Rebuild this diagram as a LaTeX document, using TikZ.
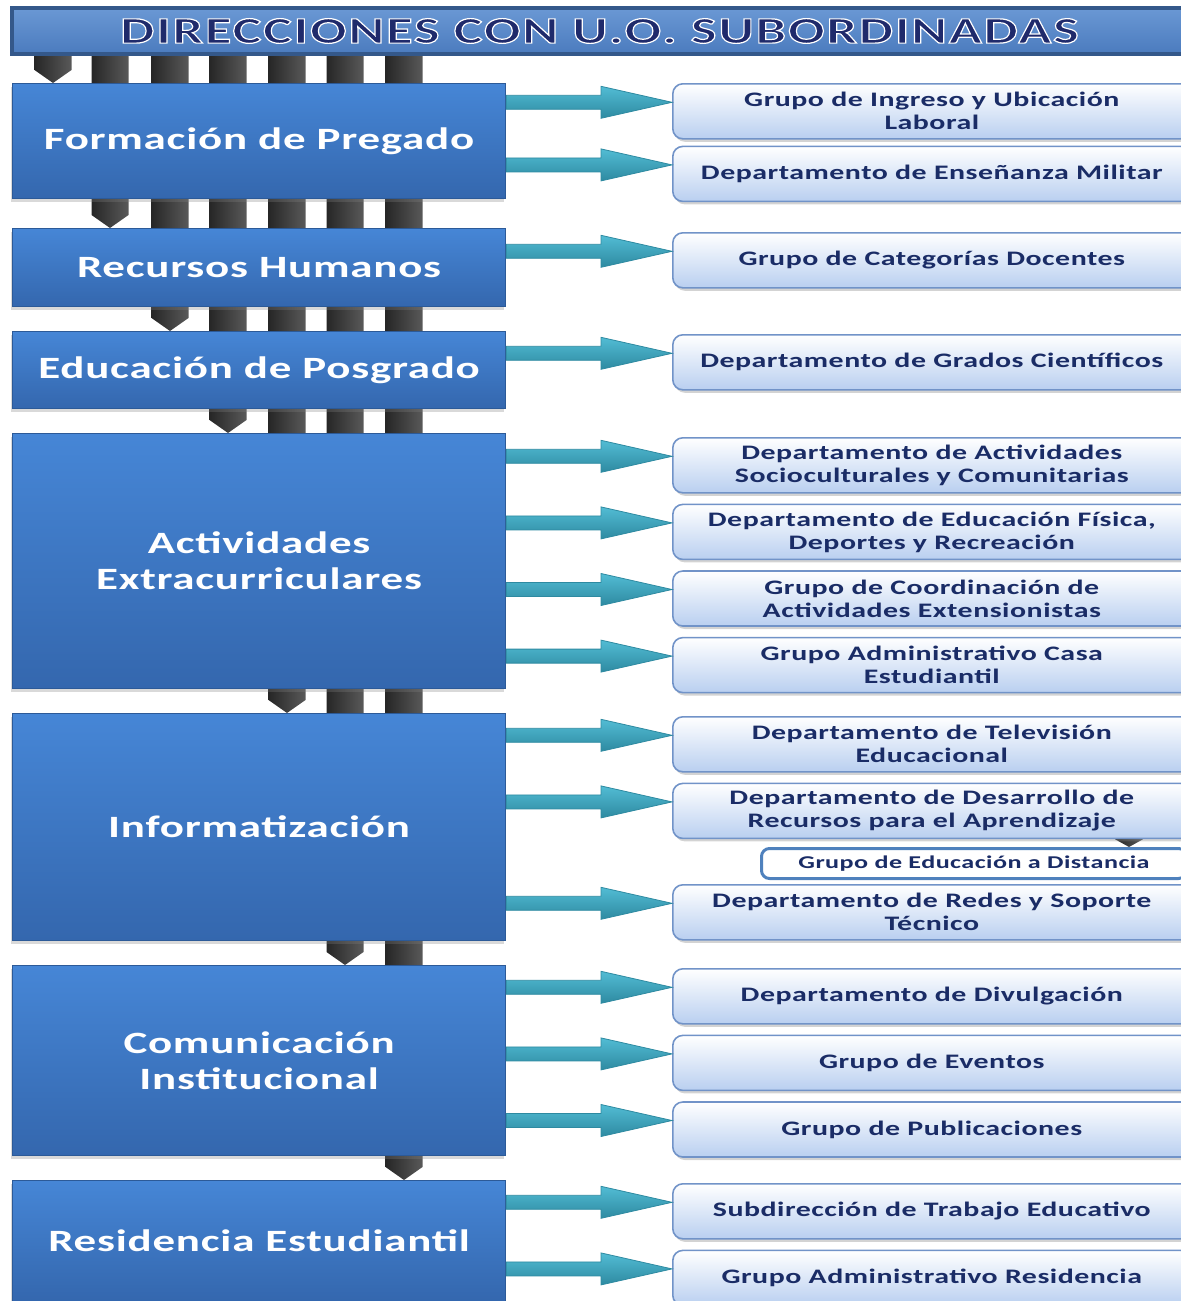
\documentclass[tikz,border=0pt]{standalone}
\usepackage{fontspec}
\setmainfont{Carlito}[FakeStretch=1.45,LetterSpace=2.5]
\newfontfamily\bannerfont{Carlito}[FakeStretch=1.45,LetterSpace=5]
\usetikzlibrary{positioning,calc,shadows,backgrounds}

\definecolor{mainTop}{HTML}{4686D6}
\definecolor{mainBot}{HTML}{3467AE}
\definecolor{mainEdge}{HTML}{2C5A98}
\definecolor{subBot}{HTML}{B9CFF0}
\definecolor{subEdge}{HTML}{7193C8}
\definecolor{subText}{HTML}{1A2C66}
\definecolor{arrLight}{HTML}{B5EAF4}
\definecolor{arrMid}{HTML}{52BCD4}
\definecolor{arrDark}{HTML}{2E8AA1}
\definecolor{bannerTop}{HTML}{6A98D4}
\definecolor{bannerBot}{HTML}{4B7BBE}
\definecolor{bannerEdge}{HTML}{34588A}
\definecolor{titleText}{HTML}{1F2A6B}
\definecolor{smallEdge}{HTML}{4F81BD}

% white outline round the banner letters
\newcommand{\outlined}[1]{\special{pdf:literal direct 2 Tr 0.6 w 1 1 1 RG}#1\special{pdf:literal direct 0 Tr}}
% block arrow from a direccion to one of its units (#1 -> #2)
\newcommand{\uoarrow}[2]{\path[uoarr] let \p1=(#1.east), \p2=($(#2.west)+(0,-9)$) in
  (\x1,\y2+3.5pt) -- (\x2-35.5pt,\y2+3.5pt) -- (\x2-35.5pt,\y2+8pt) -- (\x2,\y2)
  -- (\x2-35.5pt,\y2-8pt) -- (\x2-35.5pt,\y2-3.5pt) -- (\x1,\y2-3.5pt) -- cycle;}
% black bar from the banner down to a direccion, #2 gives its x
\newcommand{\uobar}[2]{\path[uobar] let \p1=(banner.south -| #2), \p2=(#1.north -| #2) in
  (\x1-9.25pt,\y1+2pt) -- (\x1+9.25pt,\y1+2pt) -- (\x2+9.25pt,\y2+6.5pt) -- (\x2,\y2)
  -- (\x2-9.25pt,\y2+6.5pt) -- cycle;}

\begin{document}
\begin{tikzpicture}[x=0.5pt,y=-0.5pt,node distance=5pt,
  banner/.style={anchor=north west,top color=bannerTop,bottom color=bannerBot,draw=bannerEdge,line width=2pt,minimum width=587.5pt,minimum height=23pt,text=titleText,font=\bannerfont\fontsize{18.7}{20}\selectfont\bfseries},
  mainbox/.style={anchor=north west,top color=mainTop,bottom color=mainBot,draw=mainEdge,line width=0.6pt,minimum width=246.5pt,align=center,text=white,font=\fontsize{15.5}{18}\selectfont\bfseries,drop shadow={shadow xshift=-1pt,shadow yshift=-1.5pt,opacity=.3}},
  subbox/.style={anchor=north west,rounded corners=5pt,top color=white,bottom color=subBot,draw=subEdge,line width=0.8pt,minimum width=259pt,minimum height=27.5pt,align=center,text=subText,font=\fontsize{10.3}{11.5}\selectfont\bfseries,drop shadow={shadow xshift=1pt,shadow yshift=-1.5pt,opacity=.35}},
  smallbox/.style={anchor=north west,rounded corners=4pt,fill=white,draw=smallEdge,line width=1.5pt,minimum width=212.5pt,minimum height=15pt,text=subText,font=\fontsize{9}{10}\selectfont\bfseries},
  uoarr/.style={top color=arrMid,middle color=arrLight,bottom color=arrDark,draw=arrDark,line width=0.4pt},
  uobar/.style={left color=black!85,middle color=black,right color=black!65}]
\useasboundingbox (0,0) rectangle (1181,1301);
\node[banner] (banner) at (10,6) {\outlined{DIRECCIONES CON U.O. SUBORDINADAS}};

% direcciones
\node[mainbox,minimum height=57.5pt] (pregado) at (12,83) {Formación de Pregado};
\node[mainbox,minimum height=39pt] (rrhh) at (12,228) {Recursos Humanos};
\node[mainbox,minimum height=38.5pt] (posgrado) at (12,331) {Educación de Posgrado};
\node[mainbox,minimum height=127.5pt] (extra) at (12,433) {Actividades\\Extracurriculares};
\node[mainbox,minimum height=113.5pt] (info) at (12,713) {Informatización};
\node[mainbox,minimum height=95pt] (comunic) at (12,965) {Comunicación\\Institucional};
\node[mainbox,minimum height=60.5pt] (residencia) at (12,1180) {Residencia Estudiantil};

% unidades subordinadas
\node[subbox] (ingreso) at (672,83) {Grupo de Ingreso y Ubicación\\Laboral};
\node[subbox,below=3pt of ingreso] (ensenanza) {Departamento de Enseñanza Militar};
\node[subbox] (categorias) at (672,232) {Grupo de Categorías Docentes};
\node[subbox] (grados) at (672,334) {Departamento de Grados Científicos};
\node[subbox] (sociocult) at (672,437) {Departamento de Actividades\\Socioculturales y Comunitarias};
\node[subbox,below=of sociocult] (fisica) {Departamento de Educación Física,\\Deportes y Recreación};
\node[subbox,below=of fisica] (coordinacion) {Grupo de Coordinación de\\Actividades Extensionistas};
\node[subbox,below=of coordinacion] (casa) {Grupo Administrativo Casa\\Estudiantil};
\node[subbox] (television) at (672,716) {Departamento de Televisión\\Educacional};
\node[subbox,below=of television] (desarrollo) {Departamento de Desarrollo de\\Recursos para el Aprendizaje};
\node[smallbox] (distancia) at (760,847) {Grupo de Educación a Distancia};
\node[subbox] (redes) at (672,884) {Departamento de Redes y Soporte\\Técnico};
\node[subbox] (divulgacion) at (672,968) {Departamento de Divulgación};
\node[subbox,below=of divulgacion] (eventos) {Grupo de Eventos};
\node[subbox,below=of eventos] (publicaciones) {Grupo de Publicaciones};
\node[subbox] (trabajo) at (672,1183) {Subdirección de Trabajo Educativo};
\node[subbox,below=of trabajo] (admres) {Grupo Administrativo Residencia};

% bars behind the boxes
\coordinate (c1) at (53,0); \coordinate (c2) at (110,0); \coordinate (c3) at (170,0); \coordinate (c4) at (228,0);
\coordinate (c5) at (287,0); \coordinate (c6) at (345,0); \coordinate (c7) at (404,0); \coordinate (c8) at (1129,0);
\begin{scope}[on background layer]
\uobar{pregado}{c1} \uobar{rrhh}{c2} \uobar{posgrado}{c3} \uobar{extra}{c4}
\uobar{info}{c5} \uobar{comunic}{c6} \uobar{residencia}{c7}
\path[uobar] let \p1=(desarrollo.south -| c8), \p2=(distancia.north -| c8) in (\x1-7pt,\y1) -- (\x1+7pt,\y1) -- (\x2,\y2) -- cycle;
\end{scope}

% arrows
\uoarrow{pregado}{ingreso} \uoarrow{pregado}{ensenanza}
\uoarrow{rrhh}{categorias}
\uoarrow{posgrado}{grados}
\uoarrow{extra}{sociocult} \uoarrow{extra}{fisica} \uoarrow{extra}{coordinacion} \uoarrow{extra}{casa}
\uoarrow{info}{television} \uoarrow{info}{desarrollo} \uoarrow{info}{redes}
\uoarrow{comunic}{divulgacion} \uoarrow{comunic}{eventos} \uoarrow{comunic}{publicaciones}
\uoarrow{residencia}{trabajo} \uoarrow{residencia}{admres}
\end{tikzpicture}
\end{document}
